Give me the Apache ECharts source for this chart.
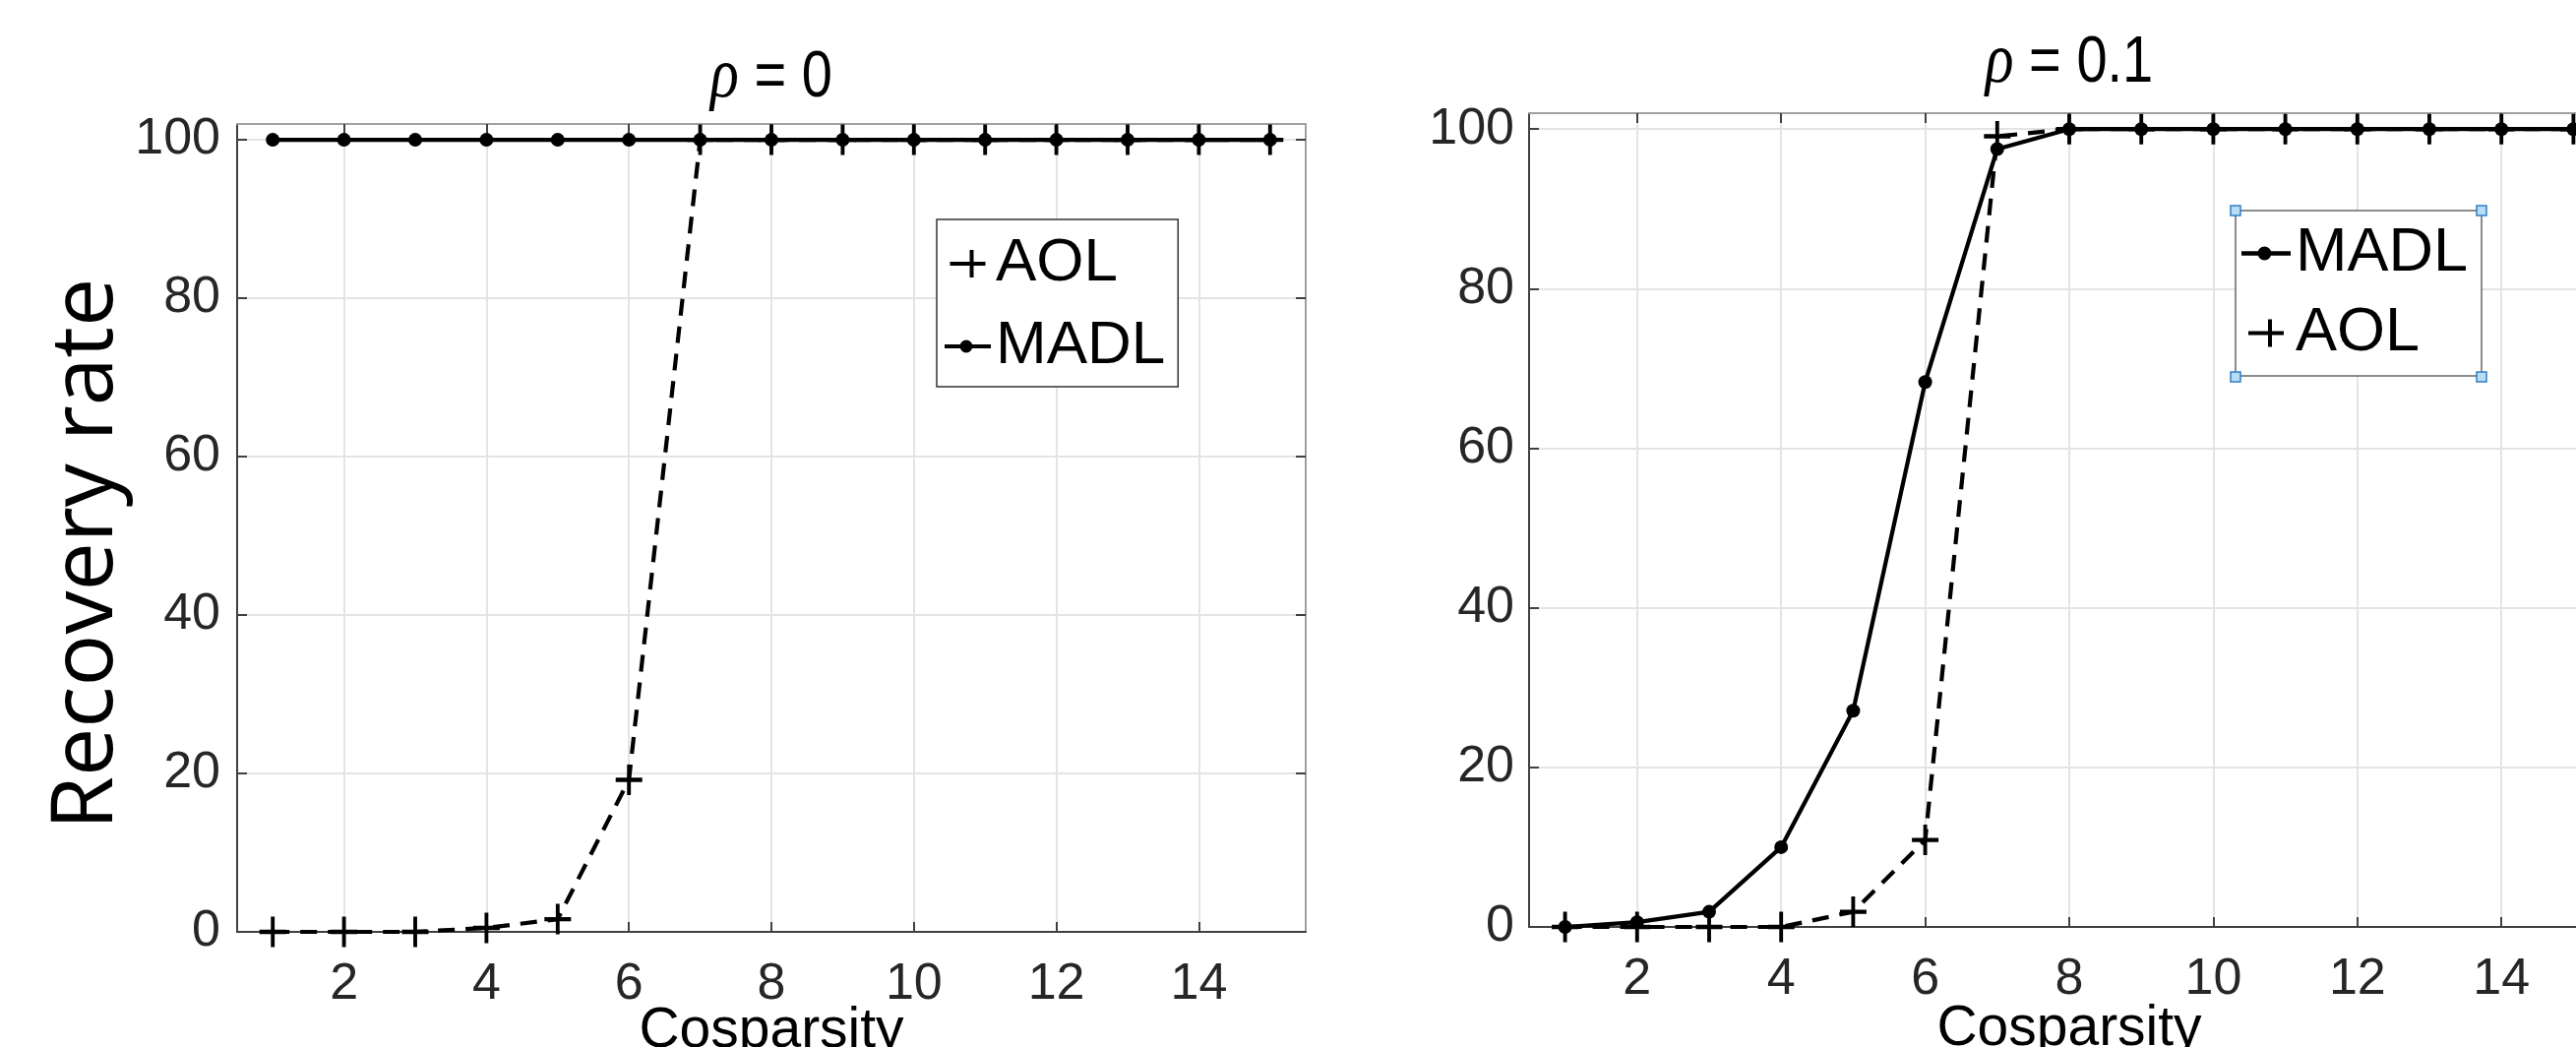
<!DOCTYPE html>
<html><head><meta charset="utf-8">
<script src="https://cdn.jsdelivr.net/npm/echarts@6/dist/echarts.min.js"></script>
<style>html,body{margin:0;padding:0;background:#fff}#c{width:2618px;height:1064px}</style>
</head><body><div id="c"></div>
<script>
// ---- data ----
const cosparsity = [1,2,3,4,5,6,7,8,9,10,11,12,13,14,15];
const aolRho0   = [0,0,0,0.5,1.6,19.2,100,100,100,100,100,100,100,100,100];
const madlRho0  = [100,100,100,100,100,100,100,100,100,100,100,100,100,100,100];
const madlRho01 = [0,0.6,1.9,10.0,27.1,68.3,97.5,100,100,100,100,100,100,100,100];
const aolRho01  = [0,0,0,0,1.9,10.9,99.1,100,100,100,100,100,100,100,100];
const xTicks = [2,4,6,8,10,12,14];
const yTicks = [0,20,40,60,80,100];
const rhoValues = ['0','0.1'];
const xName = 'Cosparsity';
const yName = 'Recovery rate';

// ---- styles ----
const FONT = '"Liberation Sans", Arial, Helvetica, sans-serif';
const PLUS = 'path://M12,0H16V12H28V16H16V28H12V16H0V12H12Z';
const AOL_ICON = 'path://M0,12H20V0H24V12H36V16H24V28H20V16H0Z';
const MADL_ICON = 'path://M0,12H47V16H0Z M15.5,14A6.5,6.5 0 1,1 28.5,14A6.5,6.5 0 1,1 15.5,14Z';

const grids = [
  {left: 241, top: 126, width: 1086, height: 821, outerBoundsMode:'none', containLabel:false},
  {left: 1554, top: 115, width: 1098, height: 827, outerBoundsMode:'none', containLabel:false}
];

function pts(ys){ return cosparsity.map((x,i)=>[x, ys[i]]); }

function xAxes(gi, nameGap){
  return [
    {gridIndex: gi, type:'value', min:0.5, max:15.5, position:'bottom',
     axisLine:{show:true, onZero:false, lineStyle:{color:'#404040', width:2}},
     axisTick:{show:true, inside:true, length:10, customValues: xTicks, lineStyle:{color:'#404040', width:2}},
     axisLabel:{show:true, customValues: xTicks, margin:28, fontSize:52, color:'#262626', fontFamily:FONT},
     splitLine:{show:true, lineStyle:{color:'#e4e4e4', width:2}},
     name: xName, nameLocation:'middle', nameGap: nameGap, nameMoveOverlap:false,
     nameTextStyle:{fontSize:57, color:'#000', fontFamily:FONT}},
    {gridIndex: gi, type:'value', min:0.5, max:15.5, position:'top',
     axisLine:{show:true, onZero:false, lineStyle:{color:'#a0a0a0', width:2}},
     axisTick:{show:true, inside:true, length:10, customValues: xTicks, lineStyle:{color:'#404040', width:2}},
     axisLabel:{show:false}, splitLine:{show:false}}
  ];
}
function yAxes(gi, margin){
  return [
    {gridIndex: gi, type:'value', min:0, max:102, interval:20, position:'left',
     axisLine:{show:true, onZero:false, lineStyle:{color:'#404040', width:2}},
     axisTick:{show:true, inside:true, length:10, customValues: yTicks, lineStyle:{color:'#404040', width:2}},
     axisLabel:{show:true, customValues: yTicks, margin: margin, fontSize:52, color:'#262626', fontFamily:FONT,
       formatter: v => (v % 20 === 0 ? String(v) : '')},
     splitLine:{show:true, lineStyle:{color:'#e4e4e4', width:2}}},
    {gridIndex: gi, type:'value', min:0, max:102, interval:20, position:'right',
     axisLine:{show:true, onZero:false, lineStyle:{color:'#a0a0a0', width:2}},
     axisTick:{show:true, inside:true, length:10, customValues: yTicks, lineStyle:{color:'#404040', width:2}},
     axisLabel:{show:false}, splitLine:{show:false}}
  ];
}

function aolSeries(gi, ys){
  return {name:'AOL', type:'line', xAxisIndex: gi*2, yAxisIndex: gi*2, data: pts(ys),
    symbol: PLUS, symbolSize:[27,31], showSymbol:true,
    lineStyle:{color:'#000', width:4.2, type:[17,11]},
    itemStyle:{color:'#000', borderWidth:0}, emphasis:{disabled:true}, z:3};
}
function madlSeries(gi, ys){
  return {name:'MADL', type:'line', xAxisIndex: gi*2, yAxisIndex: gi*2, data: pts(ys),
    symbol:'circle', symbolSize:14, showSymbol:true,
    lineStyle:{color:'#000', width:4.2},
    itemStyle:{color:'#000', borderWidth:0}, emphasis:{disabled:true}, z:2};
}

function legendCfg(left, top, order, fontSize, itemGap, padding, itemWidth, borderColor){
  const icons = {AOL: AOL_ICON, MADL: MADL_ICON};
  return {orient:'vertical', left:left, top:top, padding:padding, itemGap:itemGap,
    itemWidth:itemWidth, itemHeight:28, selectedMode:false,
    borderColor:borderColor, borderWidth:1.5, backgroundColor:'#fff', borderRadius:0,
    itemStyle:{borderWidth:0},
    textStyle:{fontSize:fontSize, fontFamily:FONT, color:'#000'},
    data: order.map(n => ({name:n, icon: icons[n]}))};
}

function titleText(cx, cy, val){
  return {type:'text', x:cx, y:cy, scaleY:1.2, z:10,
    style:{text:'{r|ρ} = ' + val, align:'center', verticalAlign:'middle',
      font:'56px ' + FONT, fill:'#000',
      rich:{r:{fontFamily:'"Liberation Serif", "DejaVu Serif", serif', fontStyle:'italic', fontSize:60, fill:'#000'}}}};
}
function handle(x, y){
  return {type:'rect', shape:{x:x-5, y:y-5, width:10, height:10}, z:20,
    style:{fill:'#b7dcf5', stroke:'#2f7fc6', lineWidth:1.5}};
}

const chart = echarts.init(document.getElementById('c'), null, {renderer:'canvas'});
chart.setOption({
  animation:false,
  backgroundColor:'#fff',
  grid: grids,
  xAxis: [...xAxes(0, 73), ...xAxes(1, 76)],
  yAxis: [...yAxes(0, 17), ...yAxes(1, 15)],
  legend: [
    legendCfg(952, 223, ['AOL','MADL'], 62, 22, [14,13,10,8], 47, '#333'),
    legendCfg(2272, 214, ['MADL','AOL'], 63, 18, [12,14,12,6], 50, '#666')
  ],
  series: [
    aolSeries(0, aolRho0), madlSeries(0, madlRho0),
    madlSeries(1, madlRho01), aolSeries(1, aolRho01)
  ],
  graphic: [
    titleText(784, 79, rhoValues[0]),
    titleText(2103, 64, rhoValues[1]),
    {type:'text', x:89, y:563, rotation:Math.PI/2, z:10,
     style:{text:yName, align:'center', verticalAlign:'middle',
       font:'88px "Open Sans", "Noto Sans", sans-serif', fill:'#000'}},
    handle(2272,214), handle(2522,214), handle(2272,383), handle(2522,383)
  ]
});
</script></body></html>
